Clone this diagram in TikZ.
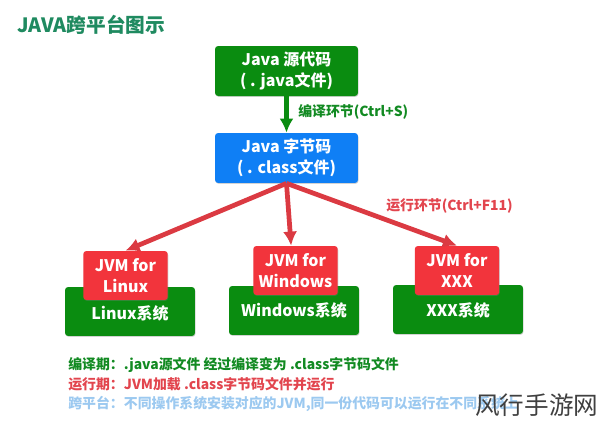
\documentclass[tikz,border=0pt]{standalone}
\usepackage{fontspec}
\setmainfont{Noto Sans CJK SC}
\usetikzlibrary{shadows}
\definecolor{boxgreen}{HTML}{0A8C10}
\definecolor{boxblue}{HTML}{0F7FF5}
\definecolor{boxred}{HTML}{F2343C}
\definecolor{arrowred}{HTML}{DB3A42}
\definecolor{titlegreen}{HTML}{1F8A60}
\definecolor{notegreen}{HTML}{128A22}
\definecolor{notered}{HTML}{E2454E}
\definecolor{noteblue}{HTML}{9CC9F0}
\tikzset{
    box/.style={rounded corners=1.8pt, text=white, align=center, font=\fontsize{9.1}{12}\selectfont\bfseries,
        inner sep=0pt, drop shadow={shadow xshift=0.3pt, shadow yshift=-0.5pt, opacity=0.35}},
    srcbox/.style={box, fill=boxgreen, minimum width=2.86cm, minimum height=1cm},
    classbox/.style={box, fill=boxblue, minimum width=2.86cm, minimum height=1cm},
    osbox/.style={box, fill=boxgreen, minimum width=2.6cm, minimum height=0.98cm},
    jvmbox/.style={box, fill=boxred, minimum width=1.69cm, minimum height=0.98cm},
    note/.style={anchor=west, inner sep=0pt, font=\fontsize{7.9}{9}\selectfont\bfseries},
    steplabel/.style={inner sep=0pt, font=\fontsize{7.9}{9}\selectfont\bfseries},
    flow/.style={-{Latex[length=8pt,width=8pt]}, line width=2.7pt},
}
\usetikzlibrary{arrows.meta}
\begin{document}
\begin{tikzpicture}[x=0.02cm, y=-0.02cm]
    \useasboundingbox (0,0) rectangle (600,427);
    % Title
    \node [anchor=west, inner sep=0pt, text=titlegreen, font=\fontsize{11.2}{12}\selectfont\bfseries] (title) at (17,25) {JAVA跨平台图示};
    % Source and class files
    \node [srcbox] (javafile) at (286.5,71) {Java 源代码\\( . java文件)};
    \node [classbox] (classfile) at (286.5,158) {Java 字节码\\( . class文件)};
    % Systems
    \node [osbox] (linuxos) at (130,311.5) {\raisebox{-1.05em}{Linux系统}};
    \node [osbox] (winos) at (294,310.5) {\raisebox{-0.75em}{Windows系统}};
    \node [osbox] (xxxos) at (458,309.5) {\raisebox{-0.95em}{XXX系统}};
    % JVMs
    \node [jvmbox] (jvmlinux) at (125.5,275.5) {JVM for\\Linux};
    \node [jvmbox] (jvmwin) at (295.5,270.5) {JVM for\\Windows};
    \node [jvmbox] (jvmxxx) at (457,270.5) {JVM for\\XXX};
    % Arrows
    \draw [flow, color=boxgreen] (javafile) -- (classfile);
    \draw [flow, color=arrowred] (classfile.south) -- (jvmlinux.north);
    \draw [flow, color=arrowred] (classfile.south) -- (jvmwin.100);
    \draw [flow, color=arrowred] (classfile.south) -- (jvmxxx.north);
    % Arrow labels
    \node [steplabel, anchor=west, text=notegreen] (compilestep) at (298,112) {编译环节(Ctrl+S)};
    \node [steplabel, anchor=west, text=notered] (runstep) at (386,206) {运行环节(Ctrl+F11)};
    % Notes
    \node [note, text=notegreen] (compilenote) at (68,365) {编译期：.java源文件 经过编译变为 .class字节码文件};
    \node [note, text=notered] (runnote) at (68,384) {运行期：JVM加载 .class字节码文件并运行};
    \node [note, text=noteblue] (crossnote) at (68,404) {跨平台：不同操作系统安装对应的JVM,同一份代码可以运行在不同系统上};
    % Watermark
    \node [anchor=west, inner sep=0pt, text=black!75, font=\fontsize{14}{16}\selectfont] (mark) at (475,405) {风行手游网};
\end{tikzpicture}
\end{document}
